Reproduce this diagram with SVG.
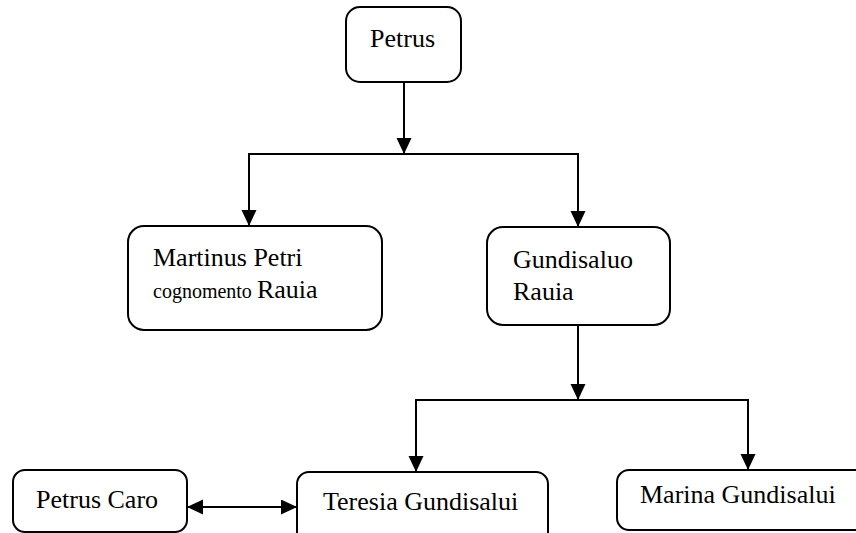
<svg xmlns="http://www.w3.org/2000/svg" width="856" height="533" viewBox="0 0 856 533">
<style>
.box{fill:#fff;stroke:#000;stroke-width:2}
.t{font-family:"Liberation Serif","Times New Roman",serif;font-size:26px;fill:#000}
.s{font-size:20px}
.c{fill:none;stroke:#000;stroke-width:2}
</style>
<defs>
<marker id="ah" markerUnits="userSpaceOnUse" markerWidth="17" markerHeight="16" refX="16" refY="7.5" orient="auto-start-reverse" viewBox="0 0 17 16">
<path d="M0,0 L16,7.5 L0,15 z" fill="#000"/>
</marker>
</defs>
<rect width="856" height="533" fill="#fff"/>
<g id="connectors">
<line class="c" x1="404" y1="82" x2="404" y2="154" marker-end="url(#ah)"/>
<polyline class="c" points="249,226 249,154 578,154 578,227"/>
<line class="c" x1="249" y1="154" x2="249" y2="226" marker-end="url(#ah)"/>
<line class="c" x1="578" y1="154" x2="578" y2="227" marker-end="url(#ah)"/>
<line class="c" x1="578" y1="325" x2="578" y2="400" marker-end="url(#ah)"/>
<polyline class="c" points="416,472 416,400 748,400 748,470"/>
<line class="c" x1="416" y1="400" x2="416" y2="472" marker-end="url(#ah)"/>
<line class="c" x1="748" y1="400" x2="748" y2="470" marker-end="url(#ah)"/>
<line class="c" x1="187" y1="507" x2="297" y2="507" marker-start="url(#ah)" marker-end="url(#ah)"/>
</g>
<g id="petrus">
<rect class="box" x="346" y="7" width="115" height="75" rx="14"/>
<text class="t" x="370" y="47">Petrus</text>
</g>
<g id="martinus">
<rect class="box" x="128" y="226" width="254" height="104" rx="16"/>
<text class="t" x="153" y="266">Martinus Petri</text>
<text class="t" x="153" y="298"><tspan class="s">cognomento </tspan>Rauia</text>
</g>
<g id="gundisaluo">
<rect class="box" x="487" y="227" width="183" height="98" rx="16"/>
<text class="t" x="513" y="268">Gundisaluo</text>
<text class="t" x="513" y="300">Rauia</text>
</g>
<g id="petruscaro">
<rect class="box" x="13" y="470" width="174" height="62" rx="12"/>
<text class="t" x="36" y="508">Petrus Caro</text>
</g>
<g id="teresia">
<rect class="box" x="297" y="472" width="251" height="75" rx="12"/>
<text class="t" x="323" y="510">Teresia Gundisalui</text>
</g>
<g id="marina">
<rect class="box" x="617" y="470" width="250" height="60" rx="12"/>
<text class="t" x="640" y="503">Marina Gundisalui</text>
</g>
</svg>
